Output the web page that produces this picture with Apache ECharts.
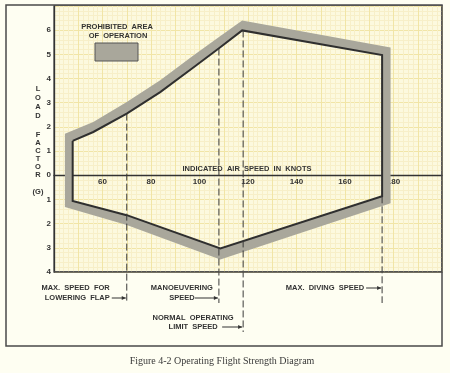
<!DOCTYPE html>
<html><head><meta charset="utf-8">
<script src="https://cdn.jsdelivr.net/npm/echarts@6/dist/echarts.min.js"></script>
<style>html,body{margin:0;padding:0;background:#fefef2;}#c{width:450px;height:373px;}</style>
</head><body><div id="c"></div>
<script>
// ---- data ----
const xTickLabels = [60, 80, 100, 120, 140, 160, 180];
const yTickLabels = [-4, -3, -2, -1, 0, 1, 2, 3, 4, 5, 6];
// inner (dark) envelope boundary: speed (knots) / load factor (G)
const envelopeSpeed = [47.7, 56.2, 70, 83.8, 97.6, 107.9, 117.6, 175.3, 175.3, 108.6, 70, 47.7];
const envelopeLoad  = [1.42, 1.79, 2.55, 3.44, 4.47, 5.24, 5.99, 4.97, -0.87, -3.03, -1.65, -1.06];
// outer edge of the grey "prohibited area" band
const bandSpeed = [44.5, 56.2, 70, 83.8, 97.6, 107.9, 117.6, 178.8, 178.8, 108.6, 70, 44.5];
const bandLoad  = [1.72, 2.2, 3.03, 3.93, 4.96, 5.71, 6.4, 5.28, -1.16, -3.48, -2.06, -1.31];
// speed markers (dashed lines)
const markerSpeeds = [70, 108, 118, 175.3];
const markerTopLoads = [2.55, 5.24, 5.99, -0.87];
const markerLabels = [
  ["MAX.  SPEED  FOR", "LOWERING  FLAP"],
  ["MANOEUVERING", "SPEED"],
  ["NORMAL  OPERATING", "LIMIT  SPEED"],
  ["MAX.  DIVING  SPEED"]
];

// ---- styles / layout ----
const INK = '#333';
const BAND = '#a9a79b';
const LBL = 'bold 7.5px "Liberation Sans", Arial, sans-serif';
const G_LEFT = 54, G_RIGHT = 8, G_TOP = 6, G_BOTTOM = 101;
const Y_MIN = -4, Y_MAX = 7;
const plotH = 373 - G_TOP - G_BOTTOM;
const zeroOffset = -plotH * (0 - Y_MIN) / (Y_MAX - Y_MIN); // move x axis up to G = 0

const envelope = envelopeSpeed.map((s, i) => [s, envelopeLoad[i]]);
envelope.push(envelope[0]);

// marker label layout (pixel offsets relative to the dashed line)
const markerLayout = [
  { align: 'right', dx: -16, rows: [16, 26], arrowRow: 1, arrowLen: 15 },
  { align: 'center', dx: -37, rows: [16, 26], arrowRow: 1, arrowLen: 24 },
  { align: 'center', dx: -50, rows: [46, 55], arrowRow: 1, arrowLen: 21 },
  { align: 'right', dx: -17, rows: [16], arrowRow: 0, arrowLen: 16 }
];
const markerExt = [31, 31, 60, 31];

const chart = echarts.init(document.getElementById('c'), null, { renderer: 'canvas' });

const MAJOR = '#f1e5a6', MINOR = '#f7efc8';

chart.setOption({
  backgroundColor: '#fefef2',
  animation: false,
  grid: {
    left: G_LEFT, right: G_RIGHT, top: G_TOP, bottom: G_BOTTOM,
    show: true, backgroundColor: '#fcf9de', borderColor: '#4a4a4a', borderWidth: 1.3
  },
  xAxis: {
    type: 'value', min: 40, max: 200, interval: 10,
    offset: zeroOffset,
    axisLine: { show: true, onZero: false, lineStyle: { color: INK, width: 1.3 } },
    axisTick: { show: false },
    axisLabel: {
      margin: 3, fontSize: 8, fontWeight: 'bold', color: INK, fontFamily: 'Liberation Sans',
      formatter: v => xTickLabels.includes(v) ? String(v) : ''
    },
    splitLine: { show: true, lineStyle: { color: MAJOR, width: 1 } },
    minorTick: { show: false, splitNumber: 5 },
    minorSplitLine: { show: true, lineStyle: { color: MINOR, width: 1 } }
  },
  yAxis: {
    type: 'value', min: Y_MIN, max: Y_MAX, interval: 1,
    axisLine: { show: true, lineStyle: { color: INK, width: 1.3 } },
    axisTick: { show: false },
    axisLabel: {
      margin: 3, fontSize: 8, fontWeight: 'bold', color: INK, fontFamily: 'Liberation Sans',
      formatter: v => yTickLabels.includes(v) ? String(Math.abs(v)) : ''
    },
    splitLine: { show: true, lineStyle: { color: MAJOR, width: 1 } },
    minorTick: { show: false, splitNumber: 5 },
    minorSplitLine: { show: true, lineStyle: { color: MINOR, width: 1 } }
  },
  series: [
    {
      // grey prohibited band: outer ring with the envelope cut out
      type: 'custom', coordinateSystem: 'cartesian2d', z: 3, clip: false,
      data: [[bandSpeed[0], bandLoad[0]]],
      renderItem: (params, api) => {
        const outer = bandSpeed.map((s, i) => api.coord([s, bandLoad[i]]));
        const inner = envelopeSpeed.map((s, i) => api.coord([s, envelopeLoad[i]]));
        const innerRev = [inner[0]].concat(inner.slice(1).reverse(), [inner[0]]);
        const pts = outer.concat([outer[0]], innerRev);
        return { type: 'polygon', shape: { points: pts }, style: { fill: BAND, stroke: null } };
      }
    },
    {
      type: 'line', data: envelope, symbol: 'none', z: 5,
      lineStyle: { color: '#2f2f2f', width: 2, join: 'miter' }
    },
    {
      type: 'custom', coordinateSystem: 'cartesian2d', z: 6, clip: false,
      data: markerSpeeds.map((s, i) => [s, markerTopLoads[i], i]),
      renderItem: (params, api) => {
        const i = api.value(2);
        const top = api.coord([api.value(0), api.value(1)]);
        const base = api.coord([api.value(0), Y_MIN]);
        const x = top[0];
        const L = markerLayout[i];
        const children = [{
          type: 'line',
          shape: { x1: x, y1: top[1], x2: x, y2: base[1] + markerExt[i] },
          style: { stroke: '#3a3a3a', lineWidth: 1, lineDash: [7, 3] }
        }];
        markerLabels[i].forEach((t, r) => {
          const y = base[1] + L.rows[r];
          const tx = L.align === 'right' ? x - L.arrowLen - 2 : x + L.dx;
          children.push({
            type: 'text',
            style: { text: t, x: tx, y: y, align: L.align, verticalAlign: 'middle', font: LBL, fill: INK }
          });
          if (r === L.arrowRow) {
            children.push({
              type: 'line',
              shape: { x1: x - L.arrowLen, y1: y, x2: x - 1, y2: y },
              style: { stroke: INK, lineWidth: 1 }
            });
            children.push({
              type: 'polygon',
              shape: { points: [[x - 1, y], [x - 5, y - 2], [x - 5, y + 2]] },
              style: { fill: INK }
            });
          }
        });
        return { type: 'group', children };
      }
    }
  ],
  graphic: [
    { type: 'line', shape: { x1: G_LEFT, y1: 373 - G_BOTTOM, x2: 450 - G_RIGHT, y2: 373 - G_BOTTOM },
      style: { stroke: '#4a4a4a', lineWidth: 1.3 }, z: 100 },
    { type: 'rect', shape: { x: 6, y: 5, width: 436, height: 341 },
      style: { fill: null, stroke: '#4a4a4a', lineWidth: 1.5 }, z: 100 },
    { type: 'text', style: { text: 'PROHIBITED  AREA', x: 117, y: 27, align: 'center', verticalAlign: 'middle', font: LBL, fill: INK }, z: 100 },
    { type: 'text', style: { text: 'OF  OPERATION', x: 118, y: 36, align: 'center', verticalAlign: 'middle', font: LBL, fill: INK }, z: 100 },
    { type: 'rect', shape: { x: 95, y: 43, width: 43, height: 18 },
      style: { fill: BAND, stroke: '#555', lineWidth: 1 }, z: 100 },
    { type: 'text', style: { text: 'L\nO\nA\nD', x: 38, y: 85, align: 'center', verticalAlign: 'top', font: LBL, fill: INK, lineHeight: 8.7 }, z: 100 },
    { type: 'text', style: { text: 'F\nA\nC\nT\nO\nR', x: 38, y: 131, align: 'center', verticalAlign: 'top', font: LBL, fill: INK, lineHeight: 8 }, z: 100 },
    { type: 'text', style: { text: '(G)', x: 38, y: 192, align: 'center', verticalAlign: 'middle', font: LBL, fill: INK }, z: 100 },
    { type: 'text', style: { text: 'INDICATED  AIR  SPEED  IN  KNOTS', x: 247, y: 169, align: 'center', verticalAlign: 'middle', font: LBL, fill: INK }, z: 100 },
    { type: 'text', style: { text: 'Figure 4-2 Operating Flight Strength Diagram', x: 222, y: 361, align: 'center', verticalAlign: 'middle', font: '10px "Liberation Serif", serif', fill: '#3a3a3a' }, z: 100 }
  ]
});
</script>
</body></html>
